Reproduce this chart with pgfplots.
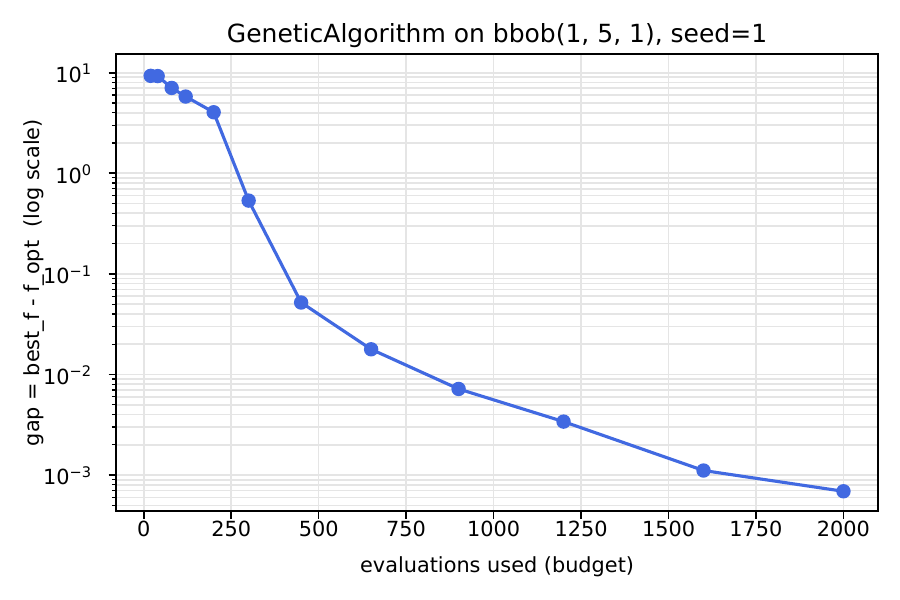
\documentclass[border=0pt]{standalone}
\usepackage{fontspec}
\setmainfont{DejaVu Sans}
\usepackage{pgfplots}
\pgfplotsset{compat=1.18}
\definecolor{royal}{HTML}{4169E1}
\definecolor{gridc}{HTML}{E5E5E5}
\begin{document}
\begin{tikzpicture}
\path[use as bounding box] (0,0) rectangle (432pt,288pt);
\begin{axis}[
  at={(55.7pt,42.6pt)}, anchor=south west,
  scale only axis, width=365.8pt, height=219.5pt,
  ymode=log,
  xmin=-79, xmax=2099,
  ymin=4.37e-4, ymax=15.35,
  axis line style={black, line width=0.8pt},
  xtick={0,250,500,750,1000,1250,1500,1750,2000},
  ytick={1e-3,1e-2,1e-1,1,10},
  yticklabels={10\textsuperscript{−3},10\textsuperscript{−2},10\textsuperscript{−1},10\textsuperscript{0},10\textsuperscript{1}},
  minor ytick={2e-4,3e-4,4e-4,5e-4,6e-4,7e-4,8e-4,9e-4,2e-3,3e-3,4e-3,5e-3,6e-3,7e-3,8e-3,9e-3,2e-2,3e-2,4e-2,5e-2,6e-2,7e-2,8e-2,9e-2,0.2,0.3,0.4,0.5,0.6,0.7,0.8,0.9,2,3,4,5,6,7,8,9,20,30},
  tick align=outside,
  xtick pos=bottom, ytick pos=left,
  major tick length=3.5pt, minor tick length=2pt,
  every tick/.style={black, line width=0.8pt},
  every minor tick/.style={black, line width=0.6pt},
  /pgf/number format/assume math mode=true,
  /pgf/number format/set thousands separator={},
  xmajorgrids=true, ymajorgrids=true, yminorgrids=true,
  major grid style={gridc, line width=0.8pt},
  minor grid style={gridc, line width=0.8pt},
  tick label style={font=\fontsize{10}{12}\selectfont, inner sep=0pt},
  xticklabel style={anchor=base, yshift=-8.8pt},
  yticklabel style={anchor=base east, xshift=-7.7pt, yshift=-4.7pt},
  title={GeneticAlgorithm on bbob(1, 5, 1), seed=1},
  title style={font=\fontsize{12}{14}\selectfont, at={(0.5,1)}, anchor=base, yshift=-0.5pt, inner sep=0pt},
  xlabel={evaluations used (budget)},
  xlabel style={font=\fontsize{10}{12}\selectfont, at={(0.5,0)}, anchor=base, yshift=-29.3pt, inner sep=0pt},
  ylabel={gap = best\_f - f\_opt\ \ (log scale)},
  ylabel style={font=\fontsize{10}{12}\selectfont, at={(-0.0998,0.5)}, rotate=0, anchor=base, inner sep=0pt},
]
\addplot[royal, line width=1.5pt, mark=*, mark size=3pt, mark options={fill=royal, draw=royal, line width=0.9pt}]
coordinates {
(20,9.3) (40,9.25) (80,7.05) (120,5.79) (200,4.04) (300,0.535) (450,0.0519) (650,0.0178) (900,0.00718) (1200,0.0034) (1600,0.00111) (2000,0.00069)
};
\end{axis}
\end{tikzpicture}
\end{document}
